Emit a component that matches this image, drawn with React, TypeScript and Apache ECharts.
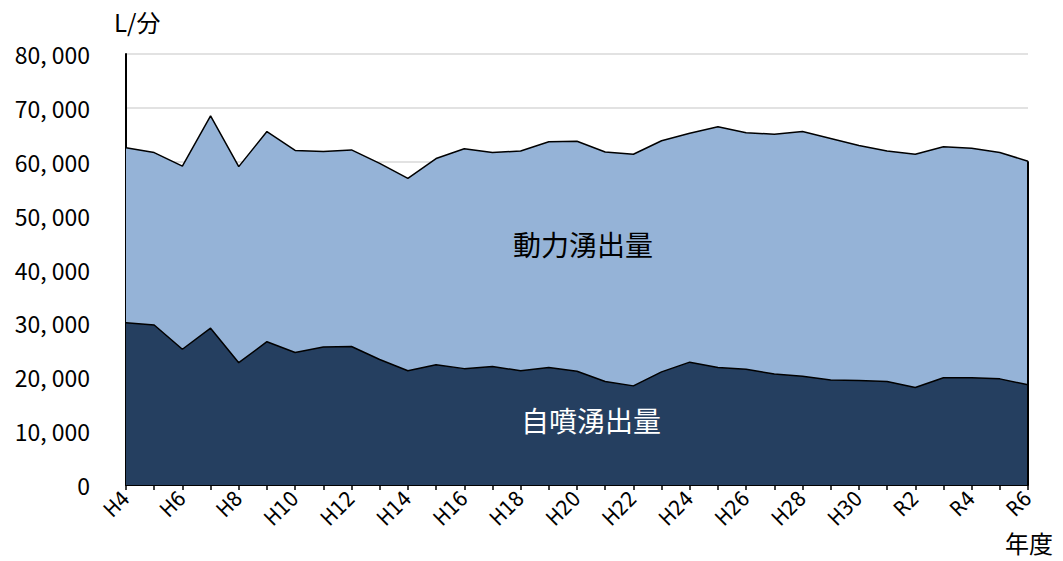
import React, { useEffect, useRef } from "react";
import * as echarts from "echarts";

const categories = [
  "H4", "H5", "H6", "H7", "H8", "H9", "H10", "H11", "H12", "H13", "H14",
  "H15", "H16", "H17", "H18", "H19", "H20", "H21", "H22", "H23", "H24",
  "H25", "H26", "H27", "H28", "H29", "H30", "R1", "R2", "R3", "R4", "R5", "R6",
];

// 自噴湧出量 (L/分)
const jifunValues = [
  30100, 29700, 25200, 29100, 22700, 26600, 24600, 25600, 25700, 23300, 21200,
  22300, 21600, 22000, 21200, 21800, 21100, 19200, 18400, 21000, 22800,
  21800, 21500, 20600, 20200, 19500, 19400, 19200, 18100, 19900, 19900, 19700, 18600,
];

// 動力湧出量 (L/分)
const doryokuValues = [
  32500, 32000, 34000, 39400, 36400, 39000, 37500, 36300, 36500, 36400, 35700,
  38300, 40800, 39700, 40800, 41900, 42700, 42600, 43000, 42900, 42500,
  44700, 43900, 44500, 45400, 44800, 43600, 42800, 43300, 42900, 42600, 42000, 41500,
];

const yTicks = { min: 0, max: 80000, interval: 10000 };

const fmt = (v: number) => String(v).replace(/\B(?=(\d{3})+(?!\d))/g, ", ");

export default function App() {
  const ref = useRef<HTMLDivElement>(null);
  useEffect(() => {
    if (!ref.current) return;
    const chart = echarts.init(ref.current, undefined, { renderer: "svg" });
    const last = categories.length - 1;
    const font = "'Noto Sans CJK JP', 'Noto Sans', sans-serif";
    chart.setOption({
      animation: false,
      backgroundColor: "#ffffff",
      textStyle: { fontFamily: font },
      grid: { left: 126, right: 35, top: 54, bottom: 76, containLabel: false },
      xAxis: {
        type: "category",
        data: categories,
        boundaryGap: false,
        axisLine: { show: true, lineStyle: { color: "#000", width: 2 } },
        axisTick: { show: true, interval: 0, length: 5, lineStyle: { color: "#000", width: 1.5 } },
        axisLabel: {
          interval: 1,
          rotate: 45,
          margin: 10,
          color: "#000",
          fontSize: 21,
          fontFamily: "'DejaVu Sans Condensed', 'Noto Sans CJK JP', sans-serif",
        },
        splitLine: { show: false },
      },
      yAxis: {
        type: "value",
        min: yTicks.min,
        max: yTicks.max,
        interval: yTicks.interval,
        axisLine: { show: true, lineStyle: { color: "#000", width: 2 } },
        axisTick: { show: false },
        axisLabel: {
          color: "#000",
          fontSize: 23,
          margin: 36,
          fontFamily: font,
          formatter: (v: number) => fmt(v),
        },
        splitLine: { show: true, lineStyle: { color: "#d9d9d9", width: 1.5 } },
      },
      series: [
        {
          name: "自噴湧出量",
          type: "line",
          stack: "total",
          data: jifunValues,
          showSymbol: false,
          symbol: "none",
          lineStyle: { color: "#000", width: 1.5 },
          itemStyle: { color: "#243f60" },
          areaStyle: { color: "#253f60", opacity: 1 },
          z: 3,
        },
        {
          name: "動力湧出量",
          type: "line",
          stack: "total",
          data: doryokuValues,
          showSymbol: false,
          symbol: "none",
          lineStyle: { color: "#000", width: 1.5 },
          itemStyle: { color: "#95b3d7" },
          areaStyle: { color: "#95b3d7", opacity: 1 },
          z: 2,
          markLine: {
            silent: true,
            symbol: "none",
            label: { show: false },
            lineStyle: { color: "#000", width: 2, type: "solid" },
            data: [
              [
                { coord: [categories[last], 0] },
                { coord: [categories[last], jifunValues[last] + doryokuValues[last]] },
              ],
            ],
          },
        },
      ],
      graphic: [
        {
          type: "text",
          left: 114,
          top: 9,
          style: { text: "L/分", fontSize: 24, fill: "#000", fontFamily: font },
        },
        {
          type: "text",
          left: 1005,
          top: 530,
          style: { text: "年度", fontSize: 24, fill: "#000", fontFamily: font },
        },
        {
          type: "text",
          x: 583,
          y: 244,
          style: {
            text: "動力湧出量",
            fontSize: 28,
            fill: "#000",
            fontFamily: font,
            align: "center",
            verticalAlign: "middle",
          },
          z: 10,
        },
        {
          type: "text",
          x: 591,
          y: 420,
          style: {
            text: "自噴湧出量",
            fontSize: 28,
            fill: "#fff",
            fontFamily: font,
            align: "center",
            verticalAlign: "middle",
          },
          z: 10,
        },
      ],
    });
    return () => chart.dispose();
  }, []);
  return (
    <div
      ref={ref}
      style={{ position: "fixed", left: 0, top: 0, width: 1063, height: 561 }}
    />
  );
}
